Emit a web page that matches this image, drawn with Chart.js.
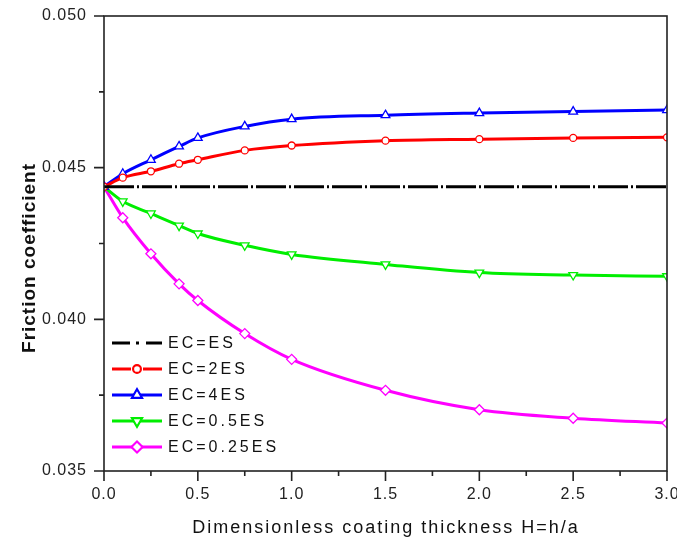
<!DOCTYPE html>
<html>
<head>
<meta charset="utf-8">
<script src="https://cdn.jsdelivr.net/npm/chart.js@4/dist/chart.umd.min.js"></script>
<style>
html,body{margin:0;padding:0;background:#fff;}
#wrap{width:677px;height:540px;position:relative;}
</style>
</head>
<body>
<div id="wrap"><canvas id="c" width="677" height="540"></canvas></div>
<script>
// ---- data ----
const thickness = [0, 0.1, 0.25, 0.4, 0.5, 0.75, 1.0, 1.5, 2.0, 2.5, 3.0];
const ecEqualES = [0.04437, 0.04437, 0.04437, 0.04437, 0.04437, 0.04437, 0.04437, 0.04437, 0.04437, 0.04437, 0.04437];
const ec2ES     = [0.04437, 0.04467, 0.04488, 0.04513, 0.04526, 0.04557, 0.04573, 0.04589, 0.04594, 0.04598, 0.04600];
const ec4ES     = [0.04437, 0.04480, 0.04526, 0.04570, 0.04598, 0.04636, 0.04660, 0.04673, 0.04680, 0.04685, 0.04690];
const ec05ES    = [0.04437, 0.04389, 0.04349, 0.04309, 0.04283, 0.04244, 0.04214, 0.04181, 0.04154, 0.04146, 0.04142];
const ec025ES   = [0.04437, 0.04335, 0.04216, 0.04117, 0.04062, 0.03953, 0.03868, 0.03766, 0.03702, 0.03674, 0.03658];
const seriesNames = ['EC=ES', 'EC=2ES', 'EC=4ES', 'EC=0.5ES', 'EC=0.25ES'];
const xTitle = 'Dimensionless coating thickness H=h/a';
const yTitle = 'Friction coefficient';
const xMajorTicks = [0, 0.5, 1.0, 1.5, 2.0, 2.5, 3.0];
const yMajorTicks = [0.035, 0.040, 0.045, 0.050];

const FONT = '"Liberation Sans", Arial, sans-serif';

function pts(ys){ return thickness.map((x,i)=>({x:x, y:ys[i]})); }

const datasets = [
  {label: seriesNames[0], data: pts(ecEqualES), borderColor:'#000000', borderDash:[30,3,2,3], pointRadius:0, legendDash:true},
  {label: seriesNames[1], data: pts(ec2ES), borderColor:'#ff0000', pointStyle:'circle', pointRadius:3.5},
  {label: seriesNames[2], data: pts(ec4ES), borderColor:'#0000ff', pointStyle:'triangle', pointRadius:5},
  {label: seriesNames[3], data: pts(ec05ES), borderColor:'#00ee00', pointStyle:'triangle', pointRotation:180, pointRadius:5},
  {label: seriesNames[4], data: pts(ec025ES), borderColor:'#ff00ff', pointStyle:'rectRot', pointRadius:5}
].map(d => Object.assign({
  borderWidth: 3,
  pointBackgroundColor: '#ffffff',
  pointBorderWidth: 1.3,
  cubicInterpolationMode: 'monotone',
  clip: 0,
  fill: false
}, d, {pointBorderColor: d.borderColor}));

const near = (v, arr) => arr.some(a => Math.abs(a - v) < 1e-9);

const decorPlugin = {
  id: 'decor',
  beforeDraw(chart){
    chart.ctx.letterSpacing = '1px';
  },
  afterDraw(chart){
    const ctx = chart.ctx;
    const a = chart.chartArea;
    const xs = chart.scales.x, ys = chart.scales.y;
    ctx.save();
    ctx.letterSpacing = '0px';
    ctx.strokeStyle = '#222';
    ctx.lineWidth = 1.6;
    ctx.setLineDash([]);
    ctx.strokeRect(a.left, a.top, a.right - a.left, a.bottom - a.top);
    // tick marks
    ctx.beginPath();
    ys.ticks.forEach(t => {
      const p = ys.getPixelForValue(t.value);
      const len = near(t.value, yMajorTicks) ? 10 : 5;
      ctx.moveTo(a.left - len, p); ctx.lineTo(a.left, p);
    });
    xs.ticks.forEach(t => {
      const p = xs.getPixelForValue(t.value);
      const len = near(t.value, xMajorTicks) ? 10 : 5;
      ctx.moveTo(p, a.bottom); ctx.lineTo(p, a.bottom + len);
    });
    ctx.stroke();

    // axis titles
    ctx.fillStyle = '#111';
    ctx.letterSpacing = '2px';
    ctx.font = '18px ' + FONT;
    ctx.textAlign = 'center';
    ctx.textBaseline = 'alphabetic';
    ctx.fillText(xTitle, 386, 533);
    ctx.save();
    ctx.translate(35, 258);
    ctx.rotate(-Math.PI/2);
    ctx.letterSpacing = '1px';
    ctx.font = 'bold 19px ' + FONT;
    ctx.fillText(yTitle, 0, 0);
    ctx.restore();

    // legend
    const rowY = [343, 369, 395, 421, 447];
    chart.data.datasets.forEach((ds, i) => {
      const y = rowY[i];
      ctx.strokeStyle = ds.borderColor;
      ctx.lineWidth = 3;
      ctx.letterSpacing = '0px';
      ctx.beginPath();
      if (ds.legendDash) {
        ctx.moveTo(112, y); ctx.lineTo(130, y);
        ctx.moveTo(136, y); ctx.lineTo(139, y);
        ctx.moveTo(146, y); ctx.lineTo(162, y);
      } else if (i === 1) {
        ctx.moveTo(112, y); ctx.lineTo(131, y);
        ctx.moveTo(143, y); ctx.lineTo(162, y);
      } else {
        ctx.moveTo(112, y); ctx.lineTo(162, y);
      }
      ctx.stroke();
      if (!ds.legendDash) {
        Chart.helpers.drawPoint(ctx, {
          pointStyle: ds.pointStyle, rotation: ds.pointRotation || 0,
          radius: ds.pointRadius, borderWidth: 1.3
        }, 137, y);
        ctx.fillStyle = '#fff';
        ctx.strokeStyle = ds.borderColor;
        ctx.lineWidth = 1.3;
        ctx.beginPath();
        // redraw filled marker
        Chart.helpers.drawPoint(ctx, {
          pointStyle: ds.pointStyle, rotation: ds.pointRotation || 0,
          radius: ds.pointRadius, borderWidth: 1.3
        }, 137, y);
      }
      ctx.fillStyle = '#111';
      ctx.letterSpacing = '3px';
      ctx.font = '16px ' + FONT;
      ctx.textAlign = 'left';
      ctx.textBaseline = 'middle';
      ctx.fillText(ds.label, 168, y + 1);
    });
    ctx.restore();
  }
};

new Chart(document.getElementById('c'), {
  type: 'line',
  data: { datasets: datasets },
  options: {
    responsive: false,
    animation: false,
    devicePixelRatio: 1,
    layout: { padding: { top: 16, right: 10, left: 0, bottom: 0 } },
    plugins: { legend: { display: false }, tooltip: { enabled: false } },
    scales: {
      x: {
        type: 'linear', min: 0, max: 3.0,
        grid: { display: false, drawTicks: false },
        border: { display: false },
        ticks: {
          stepSize: 0.25, padding: 14, color: '#222', maxRotation: 0, autoSkip: false,
          font: { size: 16, family: FONT },
          callback: v => near(v, xMajorTicks) ? v.toFixed(1) : ''
        },
        afterFit(s){ s.height = 69; s.paddingLeft = 0; s.paddingRight = 0; }
      },
      y: {
        type: 'linear', min: 0.035, max: 0.050,
        grid: { display: false, drawTicks: false },
        border: { display: false },
        ticks: {
          stepSize: 0.0025, padding: 17, color: '#222', autoSkip: false,
          font: { size: 16, family: FONT },
          callback: v => near(v, yMajorTicks) ? v.toFixed(3) : ''
        },
        afterFit(s){ s.width = 104; s.paddingTop = 0; s.paddingBottom = 0; }
      }
    }
  },
  plugins: [decorPlugin]
});
</script>
</body>
</html>
